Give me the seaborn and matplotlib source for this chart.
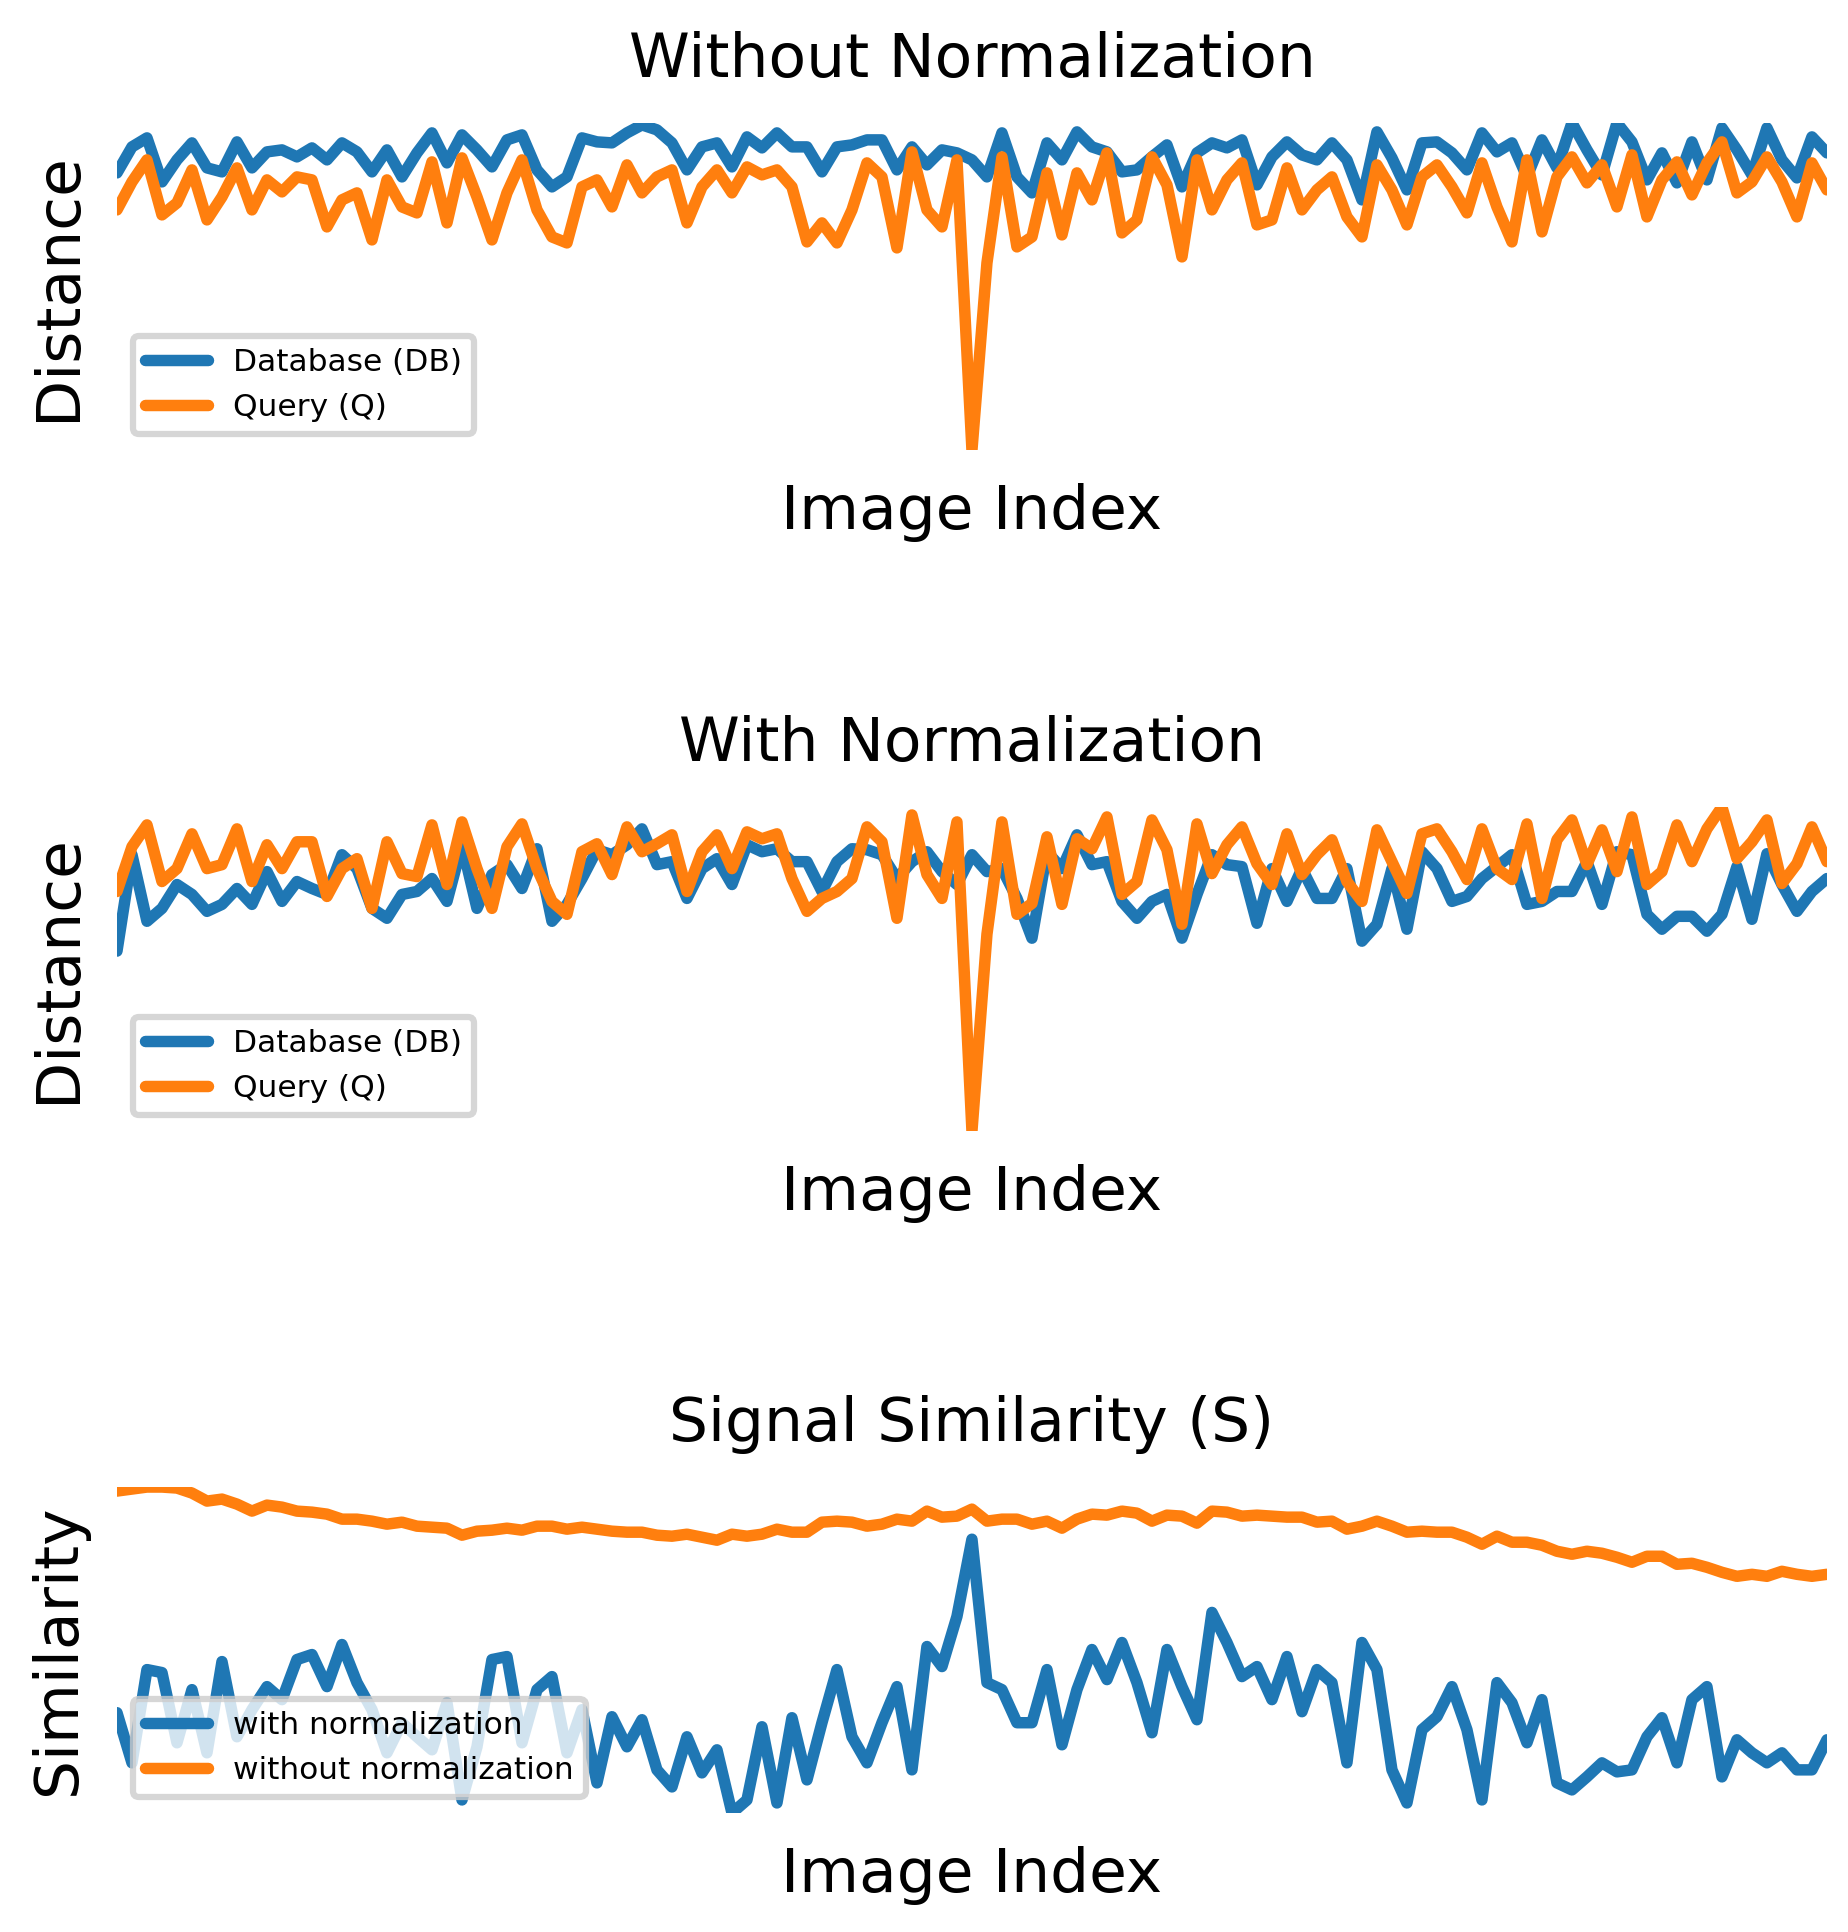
#!/usr/bin/env python3
"""Distance and similarity traces with and without normalization."""

import matplotlib
matplotlib.use("Agg")
import matplotlib.pyplot as plt
import numpy as np
import pandas as pd
import seaborn as sns

sns.set_style("white")
plt.rcParams.update({
    "font.family": ["DejaVu Sans"],
    "text.color": "black",
    "axes.labelcolor": "black",
})

FIG_W, FIG_H, DPI = 12.32, 12.88, 150
LINE_W = 5.5
TEXT_SIZE = 29.5
LEGEND_SIZE = 15
COLORS = ["#1f77b4", "#ff7f0e"]

# panel 1: raw distances (arbitrary units)
db_raw = [
    277, 303, 312, 268, 290, 307, 282, 278, 308, 282, 298, 300, 293, 302, 290, 307, 298, 278, 300, 273,
    297, 317, 287, 315, 300, 283, 310, 315, 280, 263, 273, 312, 308, 307, 317, 325, 320, 307, 280,
    303, 307, 283, 313, 302, 317, 303, 303, 278, 303, 305, 310, 310, 280, 303, 285, 300, 297, 290, 273,
    317, 273, 257, 307, 290, 318, 303, 298, 278, 280, 293, 305, 263, 297, 307, 302, 310, 265, 293,
    308, 295, 290, 307, 290, 250, 318, 292, 260, 307, 308, 297, 280, 317, 298, 307, 273, 310, 282, 327,
    300, 275, 327, 308, 270, 297, 267, 308, 270, 322, 300, 275, 322, 290, 272, 313, 297,
]
query_raw = [
    240, 268, 290, 235, 247, 280, 230, 253, 282, 240, 270, 258, 273, 270, 223, 250, 257, 210, 270, 243,
    237, 288, 227, 292, 253, 210, 257, 290, 240, 213, 207, 263, 270, 243, 285, 257, 273, 280, 227,
    263, 280, 257, 283, 275, 280, 263, 208, 227, 207, 240, 287, 273, 202, 298, 240, 223, 290, 0, 187,
    293, 203, 213, 277, 215, 277, 250, 297, 217, 230, 293, 265, 193, 290, 240, 270, 287, 225, 230,
    282, 240, 260, 273, 233, 213, 285, 260, 225, 273, 285, 263, 237, 287, 243, 208, 290, 218, 273, 293,
    267, 285, 243, 295, 233, 270, 288, 255, 287, 308, 257, 268, 293, 268, 233, 287, 260,
]

# panel 2: normalized distances
db_norm = [
    181, 278, 211, 224, 248, 238, 221, 228, 244, 228, 261, 231, 251, 244, 238, 278, 264, 224, 214, 238,
    241, 254, 231, 288, 224, 258, 268, 244, 284, 211, 228, 254, 283, 278, 288, 304, 268, 271, 234,
    264, 274, 248, 288, 281, 284, 271, 271, 241, 271, 284, 283, 278, 254, 271, 281, 261, 248, 278, 261,
    264, 234, 194, 281, 264, 298, 268, 271, 231, 214, 231, 238, 194, 238, 278, 268, 266, 209, 264,
    231, 264, 234, 234, 264, 191, 208, 264, 203, 281, 264, 231, 236, 254, 266, 278, 228, 231, 241, 241,
    271, 228, 281, 278, 218, 203, 216, 216, 201, 218, 266, 213, 279, 248, 221, 241, 254,
]
query_norm = [
    241, 286, 308, 251, 264, 299, 264, 268, 304, 251, 288, 264, 291, 291, 236, 264, 274, 224, 291, 259,
    256, 308, 248, 311, 264, 224, 286, 309, 264, 231, 218, 281, 289, 258, 306, 281, 289, 298, 241,
    281, 298, 264, 301, 294, 299, 254, 221, 234, 241, 254, 306, 291, 214, 318, 258, 234, 311, 0, 198,
    311, 218, 229, 296, 228, 294, 284, 316, 238, 251, 313, 283, 208, 309, 259, 288, 306, 269, 248,
    299, 258, 278, 293, 251, 231, 303, 271, 239, 299, 304, 281, 253, 304, 264, 253, 309, 234, 293, 313,
    268, 303, 261, 316, 248, 261, 308, 271, 304, 326, 274, 291, 313, 249, 269, 306, 271,
]

# panel 3: similarity S
sim_norm = [
    100, 50, 143, 140, 70, 123, 60, 151, 76, 103, 126, 113, 153, 158, 126, 168, 130, 103, 60, 90,
    76, 63, 110, 13, 66, 153, 156, 70, 123, 136, 60, 103, 30, 96, 66, 93, 43, 26, 76,
    40, 63, 0, 13, 86, 10, 95, 33, 90, 143, 76, 50, 90, 126, 43, 166, 146, 196, 273, 130,
    123, 90, 90, 143, 68, 123, 163, 133, 170, 130, 80, 163, 126, 93, 200, 170, 136, 146, 113,
    156, 101, 143, 130, 50, 170, 143, 43, 10, 83, 96, 126, 83, 13, 130, 110, 70, 113, 30, 23,
    36, 50, 41, 43, 76, 95, 50, 113, 126, 36, 73, 60, 50, 60, 43, 43, 73,
]
sim_raw = [
    321, 323, 325, 325, 324, 319, 311, 313, 308, 301, 307, 305, 301, 300, 298, 293, 293, 291, 288, 290,
    286, 285, 284, 277, 281, 282, 284, 282, 286, 286, 283, 285, 283, 281, 280, 280, 277, 276, 278,
    275, 272, 278, 276, 278, 283, 280, 280, 290, 291, 290, 286, 288, 293, 291, 301, 295, 296, 303, 291,
    293, 293, 288, 291, 284, 293, 298, 297, 301, 299, 291, 297, 296, 289, 301, 300, 296, 297, 296,
    295, 295, 290, 291, 283, 286, 291, 286, 280, 281, 280, 280, 275, 268, 276, 270, 270, 267, 261, 258,
    261, 259, 255, 250, 256, 256, 248, 249, 245, 240, 236, 238, 236, 241, 238, 236, 238,
]

DIST_LABELS = ["Database (DB)", "Query (Q)"]
SIM_LABELS = ["with normalization", "without normalization"]

PANELS = [
    ("Without Normalization", "Distance", [db_raw, query_raw], DIST_LABELS),
    ("With Normalization", "Distance", [db_norm, query_norm], DIST_LABELS),
    ("Signal Similarity (S)", "Similarity", [sim_norm, sim_raw], SIM_LABELS),
]

# axes rectangles in figure fractions
LEFT, WIDTH = 0.0633, 0.9253
RECTS = [
    (LEFT, 0.7671, WIDTH, 0.1693),
    (LEFT, 0.4146, WIDTH, 0.1677),
    (LEFT, 0.0616, WIDTH, 0.1687),
]


def to_long(series, labels) -> pd.DataFrame:
    frames = []
    for values, label in zip(series, labels):
        frames.append(pd.DataFrame({
            "index": np.arange(len(values)),
            "value": values,
            "series": label,
        }))
    return pd.concat(frames, ignore_index=True)


def draw_panel(ax, df: pd.DataFrame, labels, title: str, ylabel: str) -> None:
    sns.lineplot(data=df, x="index", y="value", hue="series", hue_order=labels,
                 palette=COLORS, linewidth=LINE_W, estimator=None, ax=ax)
    ax.set_xlim(df["index"].min(), df["index"].max())
    ax.set_ylim(df["value"].min(), df["value"].max())
    ax.set_xticks([])
    ax.set_yticks([])
    sns.despine(ax=ax, left=True, bottom=True)
    ax.set_title(title, fontsize=TEXT_SIZE, pad=22, color="black")
    ax.set_xlabel("Image Index", fontsize=TEXT_SIZE, labelpad=16)
    ax.set_ylabel(ylabel, fontsize=TEXT_SIZE, labelpad=14)

    sns.move_legend(ax, "lower left", title=None, fontsize=LEGEND_SIZE,
                    frameon=True, framealpha=0.8, labelcolor="black")
    leg = ax.get_legend()
    leg.get_frame().set_linewidth(3)
    leg.get_frame().set_edgecolor("0.8")
    for line in leg.get_lines():
        line.set_linewidth(LINE_W)


def main() -> None:
    fig = plt.figure(figsize=(FIG_W, FIG_H), dpi=DPI)
    for rect, (title, ylabel, series, labels) in zip(RECTS, PANELS):
        ax = fig.add_axes(rect)
        draw_panel(ax, to_long(series, labels), labels, title, ylabel)
    fig.savefig("out.png", dpi=DPI)
    plt.close(fig)


if __name__ == "__main__":
    main()
